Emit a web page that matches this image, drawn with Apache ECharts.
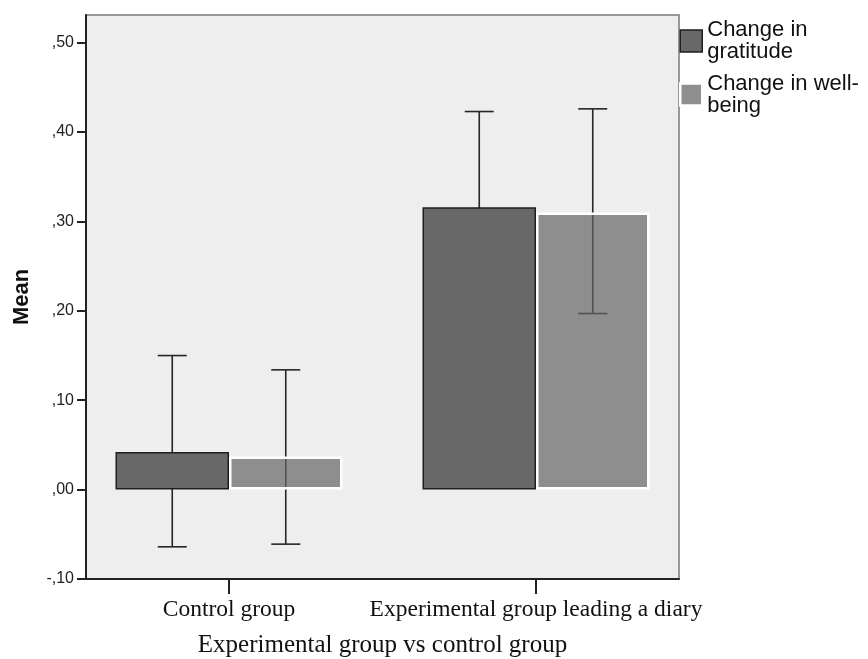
<!DOCTYPE html>
<html>
<head>
<meta charset="utf-8">
<script src="https://cdn.jsdelivr.net/npm/echarts@6/dist/echarts.min.js"></script>
<style>
html,body{margin:0;padding:0;background:#fff;}
#c{width:868px;height:659px;}
</style>
</head>
<body>
<div id="c"></div>
<script>
var categories = ['Control group', 'Experimental group leading a diary'];
var seriesNames = ['Change in gratitude', 'Change in well-being'];
var gratitudeMean = [0.042, 0.316];
var wellbeingMean = [0.037, 0.310];
var gratitudeLow = [-0.064, 0.206];
var gratitudeHigh = [0.150, 0.423];
var wellbeingLow = [-0.061, 0.197];
var wellbeingHigh = [0.134, 0.426];
var yTicks = [-0.1, 0, 0.1, 0.2, 0.3, 0.4, 0.5];

var Y_MIN = -0.1, Y_MAX = 0.531;
var BAR_W = 113.5;
var CAP_HALF = 14.5;

function fmtY(v) {
  var r = Math.round(v * 100) / 100;
  var s = Math.abs(r).toFixed(2).split('.')[1];
  return (r < 0 ? '-' : '') + ',' + s;
}

function errorData(low, high) {
  return categories.map(function (c, i) { return [i, low[i], high[i]]; });
}

function makeErrRender(dir) {
  return function (params, api) {
    var idx = api.value(0);
    var pLow = api.coord([idx, api.value(1)]);
    var pHigh = api.coord([idx, api.value(2)]);
    var x = pLow[0] + dir * BAR_W / 2;
    var style = { stroke: '#262626', lineWidth: 1.6 };
    return {
      type: 'group',
      children: [
        { type: 'line', shape: { x1: x, y1: pLow[1], x2: x, y2: pHigh[1] }, style: style },
        { type: 'line', shape: { x1: x - CAP_HALF, y1: pLow[1], x2: x + CAP_HALF, y2: pLow[1] }, style: style },
        { type: 'line', shape: { x1: x - CAP_HALF, y1: pHigh[1], x2: x + CAP_HALF, y2: pHigh[1] }, style: style }
      ]
    };
  };
}

var chart = echarts.init(document.getElementById('c'), null, { renderer: 'canvas' });
chart.setOption({
  animation: false,
  backgroundColor: '#ffffff',
  legend: {
    orient: 'vertical',
    left: 679,
    top: 19,
    padding: 0,
    itemGap: 9.5,
    itemWidth: 22,
    itemHeight: 22,
    icon: 'rect',
    selectedMode: false,
    data: [
      { name: seriesNames[0], itemStyle: { color: '#686868', borderColor: '#1e1e1e', borderWidth: 1.5 } },
      { name: seriesNames[1], itemStyle: { color: '#8e8e8e', borderColor: '#ffffff', borderWidth: 2.5 } }
    ],
    formatter: function (n) {
      return n === seriesNames[0] ? 'Change in\ngratitude' : 'Change in well-\nbeing';
    },
    textStyle: {
      fontFamily: 'Liberation Sans, Arial, sans-serif',
      fontSize: 22,
      lineHeight: 22,
      color: '#111'
    }
  },
  grid: [
    { left: 86, top: 15, width: 593, height: 564, show: true, backgroundColor: '#eeeeee', borderColor: '#7a7a7a', borderWidth: 1.5, z: 0, outerBoundsMode: 'none', containLabel: false },
    { left: 75.5, top: 15, width: 614, height: 564, show: false, outerBoundsMode: 'none', containLabel: false }
  ],
  xAxis: [
    {
      gridIndex: 0, type: 'value', min: 0, max: 1, position: 'bottom',
      axisLine: { show: true, onZero: false, lineStyle: { color: '#222', width: 2 } },
      axisTick: { show: false }, axisLabel: { show: false }, splitLine: { show: false }
    },
    {
      gridIndex: 1, type: 'category', data: categories, position: 'bottom',
      axisLine: { show: false, onZero: false },
      axisTick: { show: true, alignWithLabel: true, length: 15, lineStyle: { color: '#222', width: 2 } },
      axisLabel: { interval: 0, margin: 19, fontFamily: 'Liberation Serif, Times New Roman, serif', fontSize: 23.5, color: '#111' },
      splitLine: { show: false },
      name: 'Experimental group vs control group',
      nameLocation: 'middle',
      nameGap: 54,
      nameTextStyle: { fontFamily: 'Liberation Serif, Times New Roman, serif', fontSize: 25, color: '#111' }
    }
  ],
  yAxis: [
    {
      gridIndex: 0, type: 'value', min: Y_MIN, max: Y_MAX, interval: 0.1,
      axisLine: { show: true, onZero: false, lineStyle: { color: '#222', width: 2 } },
      axisTick: { show: true, length: 9, lineStyle: { color: '#222', width: 2 }, customValues: yTicks },
      axisLabel: {
        margin: 12, fontFamily: 'Liberation Sans, Arial, sans-serif', fontSize: 16, color: '#222',
        customValues: yTicks,
        formatter: function (v) {
          return Math.abs(v * 10 - Math.round(v * 10)) < 1e-6 ? fmtY(v) : '';
        }
      },
      splitLine: { show: false },
      name: 'Mean',
      nameLocation: 'middle',
      nameRotate: 90,
      nameGap: 53,
      nameTextStyle: { fontFamily: 'Liberation Sans, Arial, sans-serif', fontSize: 22, fontWeight: 'bold', color: '#111' }
    },
    {
      gridIndex: 1, type: 'value', min: Y_MIN, max: Y_MAX, show: false,
      axisLine: { onZero: false },
      splitLine: { show: false }
    }
  ],
  series: [
    {
      name: seriesNames[0], type: 'bar', xAxisIndex: 1, yAxisIndex: 1,
      data: gratitudeMean, barWidth: BAR_W, barGap: '0%', z: 3,
      itemStyle: { color: '#686868', borderColor: '#1e1e1e', borderWidth: 1.5 }
    },
    {
      name: seriesNames[1], type: 'bar', xAxisIndex: 1, yAxisIndex: 1,
      data: wellbeingMean, barWidth: BAR_W, barGap: '0%', z: 3,
      itemStyle: { color: 'rgba(101,101,101,0.7)', borderColor: '#ffffff', borderWidth: 2.5 }
    },
    {
      name: 'gratitudeErr', type: 'custom', xAxisIndex: 1, yAxisIndex: 1, z: 2,
      renderItem: makeErrRender(-1), data: errorData(gratitudeLow, gratitudeHigh),
      encode: { x: 0, y: [1, 2] }, silent: true
    },
    {
      name: 'wellbeingErr', type: 'custom', xAxisIndex: 1, yAxisIndex: 1, z: 2,
      renderItem: makeErrRender(1), data: errorData(wellbeingLow, wellbeingHigh),
      encode: { x: 0, y: [1, 2] }, silent: true
    }
  ]
});
</script>
</body>
</html>
